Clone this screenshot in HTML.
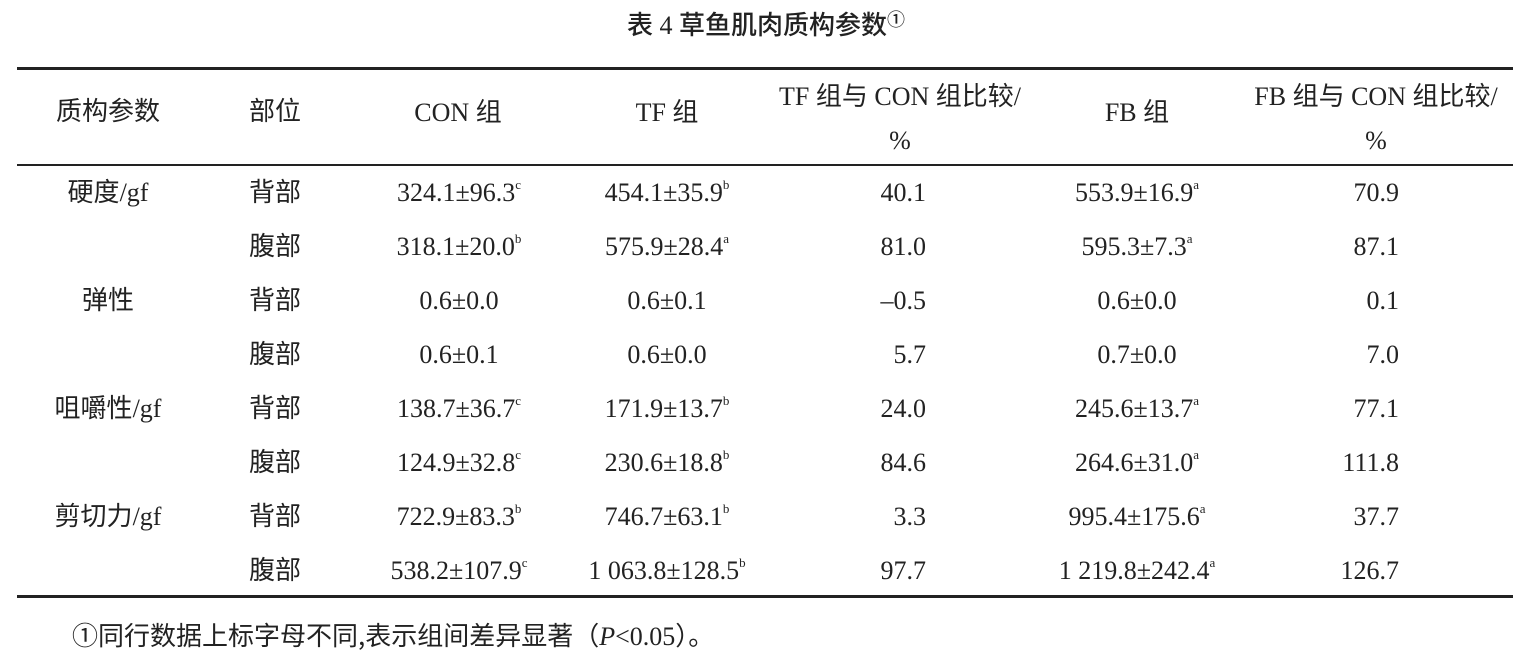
<!DOCTYPE html>
<html><head><meta charset="utf-8"><style>
body{margin:0;width:1527px;height:664px;background:#fff;position:relative;overflow:hidden;color:#222;
font-family:"Liberation Serif","Noto Sans CJK SC",serif;font-size:26px}
.a{position:absolute;white-space:nowrap;line-height:1}
.c{transform:translateX(-50%)}
.r{transform:translateX(-100%)}
.k{font-family:"Noto Sans CJK SC",sans-serif;font-weight:400;font-size:26px}
sup{font-size:13px;vertical-align:12px;line-height:0}
.rule{position:absolute;left:17px;width:1496px;background:#222}
</style></head><body>
<div class="a c k" style="left:766px;top:10px;font-size:26px;font-weight:500">表<span style="font-family:'Liberation Serif';font-weight:400"> 4 </span> 草鱼肌肉质构参数<span style="font-size:18px;vertical-align:8px">①</span></div>
<div class="rule" style="top:67px;height:3px"></div>
<div class="rule" style="top:164px;height:2px"></div>
<div class="rule" style="top:595px;height:3px"></div>

<div class="a c k" style="left:108px;top:97px">质构参数</div>
<div class="a c k" style="left:275px;top:97px">部位</div>
<div class="a c" style="left:458px;top:98px">CON <span class="k">组</span></div>
<div class="a c" style="left:667px;top:98px">TF <span class="k">组</span></div>
<div class="a c" style="left:900px;top:82px">TF <span class="k">组与</span> CON <span class="k">组比较</span>/</div>
<div class="a c" style="left:900px;top:128px">%</div>
<div class="a c" style="left:1137px;top:98px">FB <span class="k">组</span></div>
<div class="a c" style="left:1376px;top:82px">FB <span class="k">组与</span> CON <span class="k">组比较</span>/</div>
<div class="a c" style="left:1376px;top:128px">%</div>

<div class="a c" style="left:108px;top:178px"><span class="k">硬度</span>/gf</div>
<div class="a c" style="left:108px;top:286px"><span class="k">弹性</span></div>
<div class="a c" style="left:108px;top:394px"><span class="k">咀嚼性</span>/gf</div>
<div class="a c" style="left:108px;top:502px"><span class="k">剪切力</span>/gf</div>

<div class="a c k" style="left:275px;top:178px">背部</div>
<div class="a c k" style="left:275px;top:232px">腹部</div>
<div class="a c k" style="left:275px;top:286px">背部</div>
<div class="a c k" style="left:275px;top:340px">腹部</div>
<div class="a c k" style="left:275px;top:394px">背部</div>
<div class="a c k" style="left:275px;top:448px">腹部</div>
<div class="a c k" style="left:275px;top:502px">背部</div>
<div class="a c k" style="left:275px;top:556px">腹部</div>

<div class="a c" style="left:459px;top:180px">324.1±96.3<sup>c</sup></div>
<div class="a c" style="left:459px;top:234px">318.1±20.0<sup>b</sup></div>
<div class="a c" style="left:459px;top:288px">0.6±0.0</div>
<div class="a c" style="left:459px;top:342px">0.6±0.1</div>
<div class="a c" style="left:459px;top:396px">138.7±36.7<sup>c</sup></div>
<div class="a c" style="left:459px;top:450px">124.9±32.8<sup>c</sup></div>
<div class="a c" style="left:459px;top:504px">722.9±83.3<sup>b</sup></div>
<div class="a c" style="left:459px;top:558px">538.2±107.9<sup>c</sup></div>

<div class="a c" style="left:667px;top:180px">454.1±35.9<sup>b</sup></div>
<div class="a c" style="left:667px;top:234px">575.9±28.4<sup>a</sup></div>
<div class="a c" style="left:667px;top:288px">0.6±0.1</div>
<div class="a c" style="left:667px;top:342px">0.6±0.0</div>
<div class="a c" style="left:667px;top:396px">171.9±13.7<sup>b</sup></div>
<div class="a c" style="left:667px;top:450px">230.6±18.8<sup>b</sup></div>
<div class="a c" style="left:667px;top:504px">746.7±63.1<sup>b</sup></div>
<div class="a c" style="left:667px;top:558px">1 063.8±128.5<sup>b</sup></div>

<div class="a r" style="left:926px;top:180px">40.1</div>
<div class="a r" style="left:926px;top:234px">81.0</div>
<div class="a r" style="left:926px;top:288px">–0.5</div>
<div class="a r" style="left:926px;top:342px">5.7</div>
<div class="a r" style="left:926px;top:396px">24.0</div>
<div class="a r" style="left:926px;top:450px">84.6</div>
<div class="a r" style="left:926px;top:504px">3.3</div>
<div class="a r" style="left:926px;top:558px">97.7</div>

<div class="a c" style="left:1137px;top:180px">553.9±16.9<sup>a</sup></div>
<div class="a c" style="left:1137px;top:234px">595.3±7.3<sup>a</sup></div>
<div class="a c" style="left:1137px;top:288px">0.6±0.0</div>
<div class="a c" style="left:1137px;top:342px">0.7±0.0</div>
<div class="a c" style="left:1137px;top:396px">245.6±13.7<sup>a</sup></div>
<div class="a c" style="left:1137px;top:450px">264.6±31.0<sup>a</sup></div>
<div class="a c" style="left:1137px;top:504px">995.4±175.6<sup>a</sup></div>
<div class="a c" style="left:1137px;top:558px">1 219.8±242.4<sup>a</sup></div>

<div class="a r" style="left:1399px;top:180px">70.9</div>
<div class="a r" style="left:1399px;top:234px">87.1</div>
<div class="a r" style="left:1399px;top:288px">0.1</div>
<div class="a r" style="left:1399px;top:342px">7.0</div>
<div class="a r" style="left:1399px;top:396px">77.1</div>
<div class="a r" style="left:1399px;top:450px">111.8</div>
<div class="a r" style="left:1399px;top:504px">37.7</div>
<div class="a r" style="left:1399px;top:558px">126.7</div>

<div class="a" style="left:72px;top:622px"><span class="k">①同行数据上标字母不同,表示组间差异显著</span>（<i>P</i>&lt;0.05）。</div>
</body></html>
